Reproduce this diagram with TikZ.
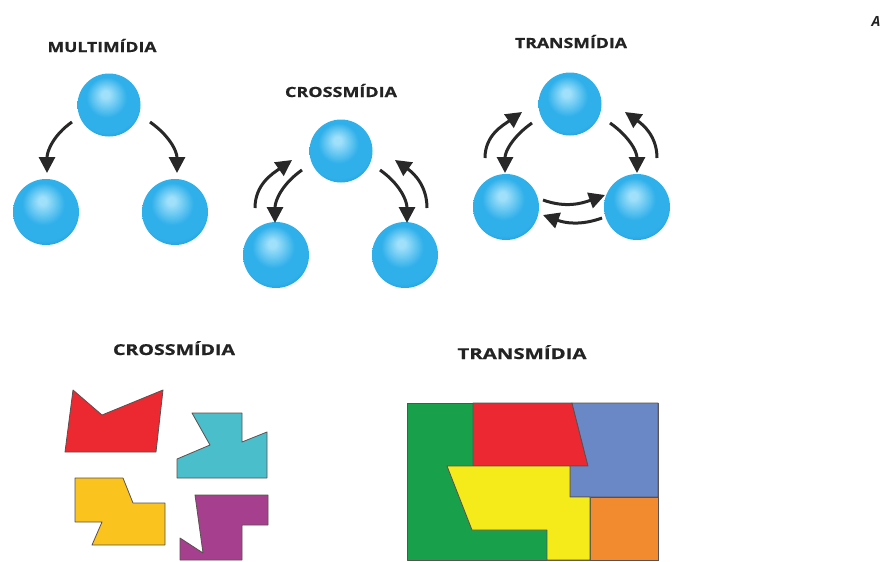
\documentclass[tikz,border=0pt]{standalone}
\usepackage{fontspec}
\setmainfont{Open Sans}
\newfontfamily\ttlfont{Open Sans}[BoldFeatures={FakeBold=0.6}]
\usetikzlibrary{arrows.meta}
\definecolor{sphHi}{RGB}{160,224,250}
\definecolor{sphMain}{RGB}{48,176,234}
\definecolor{sphEdge}{RGB}{25,145,210}
\definecolor{arrowgray}{RGB}{40,40,40}
\definecolor{outl}{RGB}{90,80,80}
\definecolor{cRed}{RGB}{236,40,48}
\definecolor{cCyan}{RGB}{75,190,204}
\definecolor{cYellow}{RGB}{250,195,30}
\definecolor{cPurple}{RGB}{166,64,142}
\definecolor{tGreen}{RGB}{25,160,75}
\definecolor{tRed}{RGB}{236,40,50}
\definecolor{tBlue}{RGB}{106,136,198}
\definecolor{tYellow}{RGB}{245,234,26}
\definecolor{tOrange}{RGB}{242,138,48}
\definecolor{ttlcol}{RGB}{35,35,35}
\pgfdeclareradialshading{sph}{\pgfpoint{-3bp}{9bp}}{color(0bp)=(sphHi); color(3bp)=(sphHi); color(16bp)=(sphMain); color(26bp)=(sphMain); color(34bp)=(sphEdge); color(50bp)=(sphEdge)}
\newcommand{\ttl}[2]{\resizebox{#1}{\height}{\ttlfont\bfseries #2}}
\tikzset{
  sphere/.style={circle, minimum size=66pt, inner sep=0pt, shading=sph},
  sphsmall/.style={sphere, minimum size=63pt},
  arr/.style={draw=arrowgray, line width=3pt, -{Triangle[length=16pt,width=16pt]}},
  title/.style={font=\fontsize{14}{16}\selectfont, text=ttlcol, inner sep=0pt, anchor=base},
  piece/.style={draw=outl, line width=0.8pt, line join=round},
}
\begin{document}
\begin{tikzpicture}[x=1pt,y=1pt]
\useasboundingbox (0,0) rectangle (884,-562);
\fill[white] (0,0) rectangle (884,-562);
% titles
\node[title] (tm) at (102,-52) {\ttl{109pt}{MULTIMÍDIA}};
\node[title] (tc) at (341,-97) {\ttl{112pt}{CROSSMÍDIA}};
\node[title] (tt) at (571,-48) {\ttl{112pt}{TRANSMÍDIA}};
\node[title, font=\fontsize{15}{17}\selectfont] (bc) at (174,-355) {\ttl{122pt}{CROSSMÍDIA}};
\node[title, font=\fontsize{15}{17}\selectfont] (bt) at (522,-359) {\ttl{129pt}{TRANSMÍDIA}};
\node[font=\fontsize{14}{16}\selectfont\bfseries\itshape, text=ttlcol, inner sep=0pt] (la) at (876,-21) {A};
% multimidia
\node[sphsmall] (m1) at (109,-105) {};
\node[sphere] (m2) at (46,-212) {};
\node[sphere] (m3) at (175,-212) {};
\draw[arr] ([shift={(-37,-17)}]m1.center) to[out=215,in=90] ([shift={(1,39)}]m2.center);
\draw[arr] ([shift={(41,-17)}]m1.center) to[out=-35,in=90] ([shift={(2,39)}]m3.center);
% crossmidia
\node[sphsmall] (c1) at (341,-151) {};
\node[sphere] (c2) at (276,-255) {};
\node[sphere] (c3) at (405,-255) {};
\draw[arr] ([shift={(-39,-19)}]c1.center) to[out=215,in=90] ([shift={(-1,32)}]c2.center);
\draw[arr] ([shift={(-21,47)}]c2.center) to[out=90,in=215] ([shift={(-49,-9)}]c1.center);
\draw[arr] ([shift={(39,-19)}]c1.center) to[out=-35,in=90] ([shift={(2,32)}]c3.center);
\draw[arr] ([shift={(22,47)}]c3.center) to[out=90,in=-35] ([shift={(54,-9)}]c1.center);
% transmidia
\node[sphsmall] (t1) at (570,-104) {};
\node[sphere] (t2) at (506,-207) {};
\node[sphere] (t3) at (637,-207) {};
\draw[arr] ([shift={(-38,-19)}]t1.center) to[out=215,in=90] ([shift={(-1,34)}]t2.center);
\draw[arr] ([shift={(-21,49)}]t2.center) to[out=90,in=215] ([shift={(-48,-8)}]t1.center);
\draw[arr] ([shift={(40,-19)}]t1.center) to[out=-35,in=90] ([shift={(0,34)}]t3.center);
\draw[arr] ([shift={(20,49)}]t3.center) to[out=90,in=-35] ([shift={(55,-8)}]t1.center);
\draw[arr] ([shift={(37,7)}]t2.center) to[out=-20,in=200] ([shift={(-32,12)}]t3.center);
\draw[arr] ([shift={(-35,-11)}]t3.center) to[out=200,in=-20] ([shift={(37,-8)}]t2.center);
% crossmidia pieces
\filldraw[piece, fill=cRed] (73,-390) -- (102,-415) -- (163,-390) -- (156,-452) -- (65,-452) -- cycle;
\filldraw[piece, fill=cCyan] (192,-413) -- (242,-413) -- (242,-442) -- (267,-432) -- (267,-478) -- (177,-478) -- (177,-459) -- (210,-445) -- cycle;
\filldraw[piece, fill=cYellow] (75,-478) -- (123,-478) -- (133,-503) -- (165,-503) -- (165,-545) -- (92,-545) -- (102,-522) -- (75,-522) -- cycle;
\filldraw[piece, fill=cPurple] (195,-495) -- (268,-495) -- (268,-525) -- (242,-525) -- (242,-560) -- (180,-560) -- (180,-538) -- (203,-553) -- cycle;
% transmidia puzzle
\filldraw[piece, fill=tGreen] (407,-403) rectangle (658,-560);
\filldraw[piece, fill=tRed] (473,-403) -- (572,-403) -- (588,-466) -- (473,-466) -- cycle;
\filldraw[piece, fill=tBlue] (572,-403) -- (658,-403) -- (658,-497) -- (570,-497) -- (570,-466) -- (588,-466) -- cycle;
\filldraw[piece, fill=tOrange] (590,-497) rectangle (658,-560);
\filldraw[piece, fill=tYellow] (447,-466) -- (570,-466) -- (570,-497) -- (590,-497) -- (590,-560) -- (547,-560) -- (547,-530) -- (472,-530) -- cycle;
\end{tikzpicture}
\end{document}
